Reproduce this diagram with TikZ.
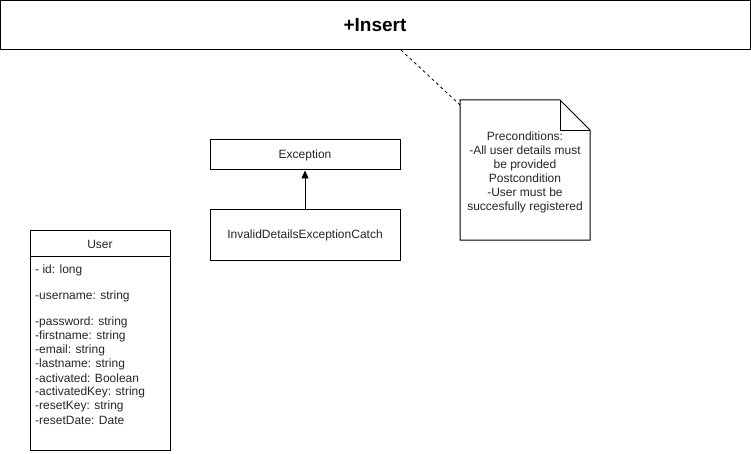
\documentclass[tikz,border=0pt]{standalone}
\usepackage{fontspec}
\setmainfont{Liberation Sans}
\usetikzlibrary{arrows.meta}
\begin{document}
\begin{tikzpicture}[x=1pt,y=-1pt,
  box/.style={draw,line width=1pt,fill=white},
  txt/.style={font=\fontsize{12}{14}\selectfont,inner sep=0pt,text=black!85},
  attr/.style={txt,anchor=west}]
\useasboundingbox (0,0) rectangle (751,454);
% top box
\draw[box] (0.5,0.5) rectangle (750,50);
\node[inner sep=0pt,font=\fontsize{19}{22}\bfseries\selectfont] (title) at (375,25) {+Insert};
\coordinate (tb) at (401,50);
% note
\draw[box] (460,100) -- (560,100) -- (590,130) -- (590,240) -- (460,240) -- cycle;
\draw[line width=0.8pt] (560,100) -- (560,130) -- (590,130);
\coordinate (nt) at (460,105);
\node[txt,align=center] (note) at (525,172) {Preconditions:\\-All user details must\\be provided\\Postcondition\\-User must be\\succesfully registered};
\draw[dashed,line width=0.8pt] (tb) -- (nt);
% exception
\node[box,minimum width=190pt,minimum height=30pt,txt,inner sep=0pt] (exc) at (305,155) {Exception};
\node[box,minimum width=190pt,minimum height=50pt,txt,inner sep=0pt] (inv) at (305,235) {InvalidDetailsExceptionCatch};
\draw[line width=1pt,-{Triangle[length=8pt,width=7pt]}] (inv.north) -- (exc.south);
% user
\draw[box] (30,230) rectangle (170,450);
\draw[line width=1pt] (30,256) -- (170,256);
\node[txt] (uname) at (100,244) {User};
\node[attr] (a1) at (35,270) {- id: long};
\node[attr] (a2) at (35,296) {-username: string};
\node[attr] (a3) at (35,322) {-password: string};
\node[attr] (a4) at (35,336) {-firstname: string};
\node[attr] (a5) at (35,350) {-email: string};
\node[attr] (a6) at (35,364) {-lastname: string};
\node[attr] (a7) at (35,378) {-activated: Boolean};
\node[attr] (a8) at (35,392) {-activatedKey: string};
\node[attr] (a9) at (35,406) {-resetKey: string};
\node[attr] (a10) at (35,420) {-resetDate: Date};
\end{tikzpicture}
\end{document}
